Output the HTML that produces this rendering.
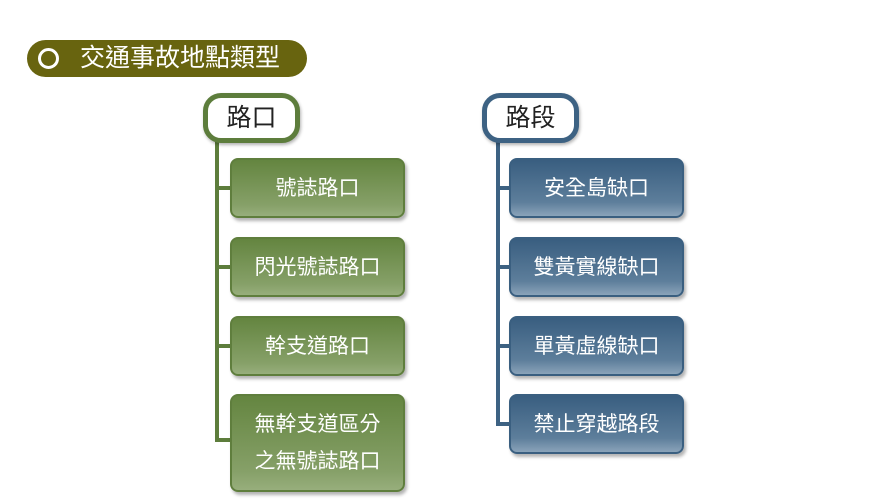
<!DOCTYPE html>
<html><head><meta charset="utf-8"><style>
*{margin:0;padding:0;box-sizing:border-box}
body{width:896px;height:504px;background:#fff;position:relative;overflow:hidden;font-family:"Liberation Sans","Noto Sans CJK TC",sans-serif}
.abs{position:absolute}
.title{left:27px;top:40px;width:280px;height:37px;background:#68640f;border-radius:19px;color:#fff;font-size:25px;line-height:37px;padding-left:53px}
.circ{left:38px;top:48px;width:21px;height:21px;border:3.5px solid #fff;border-radius:50%}
.head{height:50px;width:97px;border-radius:18px;background:#fff;font-size:25px;line-height:40px;text-align:center;color:#222;box-shadow:1px 2px 3px rgba(0,0,0,.3)}
.g{border:5px solid #5d7d3c}
.b{border:5px solid #3d6283}
.line{width:4px}
.box{width:175px;border-radius:8px;color:#fff;font-size:21px;display:flex;align-items:center;justify-content:center;text-align:center;line-height:37px;box-shadow:2px 3px 3px rgba(0,0,0,.3)}
.gb{background:linear-gradient(#648540,#86a068 80%,#97ae7c);border:2px solid #5f7e3d}
.bb{background:linear-gradient(#395e80,#5d7e9b 75%,#8aa3b9);border:2px solid #3a5f80}
</style></head><body>
<div class="abs title">交通事故地點類型</div>
<div class="abs circ"></div>

<div class="abs line" style="left:215px;top:140px;height:302px;background:#5d7d3c"></div>
<div class="abs head g" style="left:203px;top:93px">路口</div>
<div class="abs" style="left:215px;top:186px;width:16px;height:4px;background:#5d7d3c"></div>
<div class="abs" style="left:215px;top:265px;width:16px;height:4px;background:#5d7d3c"></div>
<div class="abs" style="left:215px;top:344px;width:16px;height:4px;background:#5d7d3c"></div>
<div class="abs" style="left:215px;top:438px;width:16px;height:4px;background:#5d7d3c"></div>
<div class="abs box gb" style="left:230px;top:158px;height:60px">號誌路口</div>
<div class="abs box gb" style="left:230px;top:237px;height:60px">閃光號誌路口</div>
<div class="abs box gb" style="left:230px;top:316px;height:60px">幹支道路口</div>
<div class="abs box gb" style="left:230px;top:394px;height:98px">無幹支道區分<br>之無號誌路口</div>

<div class="abs line" style="left:496px;top:140px;height:286px;background:#3d6283"></div>
<div class="abs head b" style="left:482px;top:93px">路段</div>
<div class="abs" style="left:496px;top:186px;width:15px;height:4px;background:#3d6283"></div>
<div class="abs" style="left:496px;top:265px;width:15px;height:4px;background:#3d6283"></div>
<div class="abs" style="left:496px;top:344px;width:15px;height:4px;background:#3d6283"></div>
<div class="abs" style="left:496px;top:422px;width:15px;height:4px;background:#3d6283"></div>
<div class="abs box bb" style="left:509px;top:158px;height:60px">安全島缺口</div>
<div class="abs box bb" style="left:509px;top:237px;height:60px">雙黃實線缺口</div>
<div class="abs box bb" style="left:509px;top:316px;height:60px">單黃虛線缺口</div>
<div class="abs box bb" style="left:509px;top:394px;height:60px">禁止穿越路段</div>
</body></html>
